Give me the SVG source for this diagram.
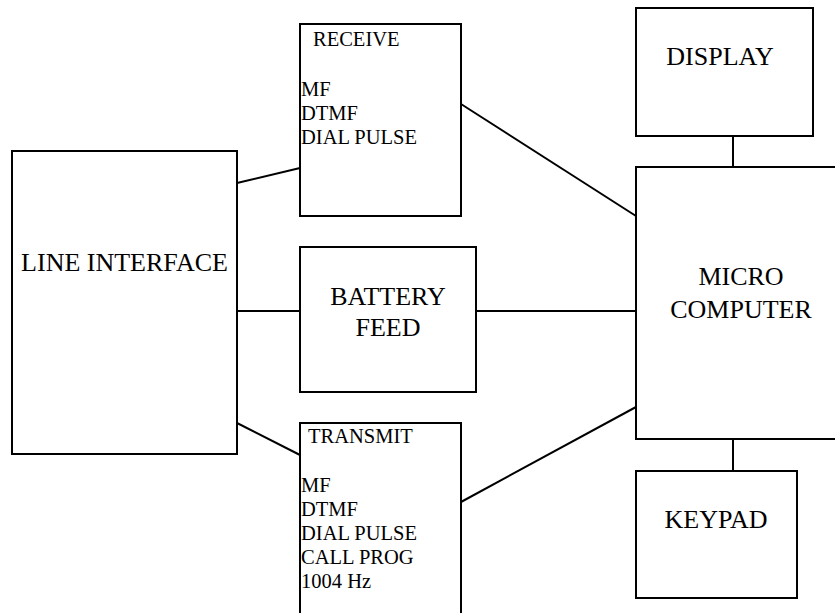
<svg xmlns="http://www.w3.org/2000/svg" width="835" height="613" viewBox="0 0 835 613">
  <style>
    .box { fill: #ffffff; stroke: #000000; stroke-width: 2; }
    .wire { stroke: #000000; stroke-width: 2; fill: none; }
    text { font-family: 'Liberation Serif', 'DejaVu Serif', serif; fill: #000000; }
    .big { font-size: 26px; text-anchor: middle; }
    .small { font-size: 20.5px; }
  </style>
  <rect width="835" height="613" fill="#ffffff"/>

  <!-- connectors -->
  <g id="connectors">
    <line class="wire" x1="237" y1="183" x2="300" y2="168"/>
    <line class="wire" x1="237" y1="311" x2="300" y2="311"/>
    <line class="wire" x1="237" y1="423" x2="300" y2="455"/>
    <line class="wire" x1="461" y1="104" x2="636" y2="216"/>
    <line class="wire" x1="476" y1="311" x2="636" y2="311"/>
    <line class="wire" x1="461" y1="502" x2="636" y2="407"/>
    <line class="wire" x1="733" y1="136" x2="733" y2="167"/>
    <line class="wire" x1="733" y1="439" x2="733" y2="471"/>
  </g>

  <g id="line-interface">
    <rect class="box" x="12" y="151" width="225" height="303"/>
    <text class="big" x="124.5" y="271">LINE INTERFACE</text>
  </g>

  <g id="receive">
    <rect class="box" x="300" y="24" width="161" height="192"/>
    <text class="small" x="313" y="46">RECEIVE</text>
    <text class="small" x="301" y="96">MF</text>
    <text class="small" x="301" y="120">DTMF</text>
    <text class="small" x="301" y="144">DIAL PULSE</text>
  </g>

  <g id="battery-feed">
    <rect class="box" x="300" y="247" width="176" height="145"/>
    <text class="big" x="388" y="305">BATTERY</text>
    <text class="big" x="388" y="336">FEED</text>
  </g>

  <g id="transmit">
    <rect class="box" x="300" y="423" width="161" height="200"/>
    <text class="small" x="308" y="443">TRANSMIT</text>
    <text class="small" x="301" y="492">MF</text>
    <text class="small" x="301" y="516">DTMF</text>
    <text class="small" x="301" y="540">DIAL PULSE</text>
    <text class="small" x="301" y="564">CALL PROG</text>
    <text class="small" x="301" y="588">1004 Hz</text>
  </g>

  <g id="display">
    <rect class="box" x="636" y="8" width="177" height="128"/>
    <text class="big" x="720" y="65">DISPLAY</text>
  </g>

  <g id="micro-computer">
    <rect class="box" x="636" y="167" width="215" height="272"/>
    <text class="big" x="741" y="285">MICRO</text>
    <text class="big" x="741" y="318">COMPUTER</text>
  </g>

  <g id="keypad">
    <rect class="box" x="636" y="471" width="161" height="127"/>
    <text class="big" x="716" y="528">KEYPAD</text>
  </g>
</svg>
